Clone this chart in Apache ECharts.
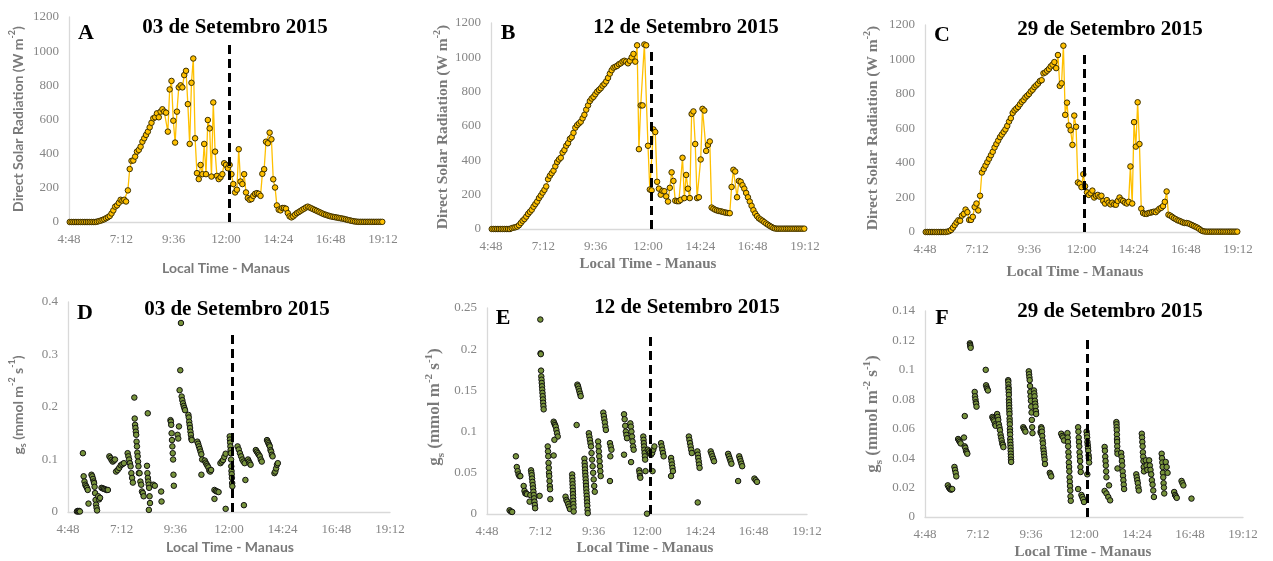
<!DOCTYPE html>
<html>
<head>
<meta charset="utf-8">
<script src="https://cdn.jsdelivr.net/npm/echarts@6/dist/echarts.min.js"></script>
<style>
  html, body { margin: 0; padding: 0; background: #ffffff; }
  #chart { width: 1273px; height: 561px; }
</style>
</head>
<body>
<div id="chart"></div>
<script>
// ---------------------------------------------------------------
// Direct solar radiation (W m-2), logged every 5 minutes from 4:50
// ---------------------------------------------------------------
const SAMPLE_START = '4:50';
const SAMPLE_MINUTES = 5;

const radiationSep03 = [
  0,0,0,0,0,0,0,0,0,0,0,0,0,0,0,
  2,5,8,12,16,22,28,35,50,68,90,97,112,130,125,130,120,
  185,310,358,360,383,412,422,441,470,490,510,529,554,581,607,613,636,613,646,660,646,640,
  529,776,826,593,465,646,788,800,788,860,885,690,457,815,957,490,286,251,334,280,
  457,280,597,548,266,700,412,270,251,262,280,344,334,315,334,280,222,173,189,426,
  237,222,280,173,140,130,134,153,165,169,165,153,282,309,470,461,523,484,250,202,
  97,72,68,82,82,78,52,33,27,33,43,52,58,65,72,78,85,90,85,80,
  75,70,65,60,55,50,45,42,38,35,32,30,28,26,24,22,20,18,15,12,10,7,5,3,2,
  1,1,1,1,1,1,1,1,1,1,1,1,1,1
];

const radiationSep12 = [
  0,0,0,0,0,0,0,0,0,0,0,
  5,8,10,14,22,35,48,58,72,88,100,112,130,145,160,180,195,212,228,248,
  290,310,325,340,365,390,405,415,445,460,485,500,525,535,560,590,605,615,625,645,
  665,695,720,745,760,770,785,800,810,820,835,845,860,880,905,925,940,945,950,960,
  965,975,980,975,965,980,1000,1020,975,1070,
  465,720,720,1075,1070,485,230,225,580,565,275,235,200,222,220,190,160,240,330,280,
  165,162,162,170,415,180,315,235,180,670,685,495,180,185,405,700,690,455,490,510,
  125,118,112,108,105,103,100,97,95,93,92,245,345,335,185,280,275,255,235,210,
  185,160,135,110,90,75,62,55,48,40,32,25,18,12,6,3,
  2,2,2,2,2,2,2,2,2,2,2,2,2,2,2,2
];

const radiationSep29 = [
  0,0,0,0,0,0,0,0,0,0,0,0,
  2,5,12,25,40,55,68,65,95,105,130,115,70,70,88,145,165,125,210,
  345,365,385,405,425,445,465,490,510,530,550,565,580,595,615,640,660,690,705,715,
  725,740,755,765,780,790,800,815,825,840,850,860,875,880,920,925,935,945,960,970,
  985,950,1026,847,862,1080,679,750,617,590,505,675,610,287,280,260,335,265,230,215,
  225,240,200,210,215,205,210,180,165,185,170,160,170,160,158,180,200,185,180,170,
  165,175,380,165,637,495,752,510,135,110,105,105,110,112,115,118,115,125,135,140,
  150,175,235,100,95,88,80,75,68,65,60,55,52,52,50,45,40,35,30,25,18,10,5,3,
  2,2,2,2,2,2,2,2,2,2,2,2,2,2,2,2,2,2
];

// ---------------------------------------------------------------
// Stomatal conductance gs (mmol m-2 s-1): measurement bouts
// [first reading, last reading, readings in order]
// ---------------------------------------------------------------
const conductanceSep03 = [
  ['5:12', '5:20', [0.001, 0.002, 0.001, 0.002, 0.001]],
  ['5:28', '5:28', [0.112]],
  ['5:30', '5:41', [0.068, 0.058, 0.052, 0.049, 0.046, 0.042]],
  ['5:43', '5:43', [0.016]],
  ['5:51', '5:57', [0.071, 0.068, 0.063, 0.058]],
  ['5:58', '6:06', [0.055, 0.048, 0.036, 0.023, 0.014, 0.008, 0.003]],
  ['6:09', '6:14', [0.03, 0.024, 0.027]],
  ['6:18', '6:35', [0.046, 0.045, 0.044, 0.043, 0.042, 0.042]],
  ['6:39', '6:54', [0.106, 0.103, 0.099, 0.096, 0.098, 0.1]],
  ['6:57', '7:18', [0.077, 0.08, 0.084, 0.089, 0.091, 0.093]],
  ['7:28', '7:42', [0.112, 0.106, 0.1, 0.093, 0.087, 0.074, 0.065, 0.056]],
  ['7:46', '7:58', [0.218, 0.178, 0.166, 0.16, 0.153, 0.147, 0.134, 0.125, 0.113, 0.106, 0.096, 0.087, 0.074]],
  ['8:00', '8:11', [0.074, 0.058, 0.052, 0.039, 0.036, 0.03]],
  ['8:20', '8:28', [0.088, 0.074, 0.065, 0.058, 0.052, 0.046, 0.03, 0.017]],
  ['8:22', '8:22', [0.188]],
  ['8:25', '8:25', [0.004]],
  ['8:37', '8:41', [0.052, 0.05]],
  ['8:58', '8:59', [0.039, 0.02]],
  ['9:23', '9:32', [0.175, 0.172, 0.166, 0.15, 0.137, 0.125, 0.112, 0.1, 0.071, 0.05]],
  ['9:42', '10:02', [0.147, 0.14, 0.163, 0.232, 0.27, 0.36, 0.22, 0.213, 0.207, 0.202, 0.198, 0.194]],
  ['10:11', '10:20', [0.185, 0.18, 0.172, 0.166, 0.16, 0.153, 0.147, 0.14, 0.137]],
  ['10:35', '10:48', [0.134, 0.13, 0.125, 0.12, 0.115, 0.11, 0.1]],
  ['10:46', '10:46', [0.071]],
  ['10:55', '11:12', [0.098, 0.094, 0.091, 0.088, 0.085, 0.079, 0.077, 0.08]],
  ['11:21', '11:32', [0.042, 0.04, 0.039, 0.038]],
  ['11:21', '11:21', [0.025]],
  ['11:37', '11:51', [0.093, 0.096, 0.099, 0.105, 0.111]],
  ['11:51', '11:51', [0.006]],
  ['12:02', '12:09', [0.144, 0.138, 0.132, 0.125, 0.118, 0.112, 0.1, 0.087, 0.078, 0.072, 0.065, 0.055, 0.049]],
  ['12:23', '12:42', [0.125, 0.119, 0.112, 0.106, 0.1, 0.096, 0.093]],
  ['12:44', '12:44', [0.061]],
  ['12:40', '12:40', [0.013]],
  ['12:51', '12:58', [0.1, 0.096, 0.093, 0.09]],
  ['13:12', '13:28', [0.118, 0.115, 0.112, 0.109, 0.106, 0.1, 0.096]],
  ['13:42', '13:57', [0.137, 0.134, 0.131, 0.128, 0.125, 0.118, 0.115, 0.109, 0.106]],
  ['14:02', '14:11', [0.074, 0.077, 0.083, 0.09, 0.093]]
];

const conductanceSep12 = [
  ['5:49', '5:56', [0.0045, 0.003, 0.0025]],
  ['6:06', '6:18', [0.07, 0.057, 0.052, 0.048, 0.046, 0.046]],
  ['6:27', '6:36', [0.034, 0.028, 0.025, 0.025, 0.024]],
  ['6:43', '6:45', [0.015, 0.023]],
  ['6:47', '6:58', [0.053, 0.05, 0.047, 0.043, 0.039, 0.035, 0.031, 0.027, 0.023, 0.019, 0.015, 0.011, 0.007]],
  ['7:10', '7:10', [0.022]],
  ['7:12', '7:21', [0.236, 0.195, 0.194, 0.174, 0.167, 0.163, 0.159, 0.155, 0.151, 0.147, 0.143, 0.139, 0.135, 0.131, 0.127]],
  ['7:32', '7:39', [0.082, 0.076, 0.07, 0.062, 0.056, 0.05, 0.046, 0.04, 0.034, 0.03, 0.018]],
  ['7:48', '7:59', [0.112, 0.11, 0.108, 0.106, 0.102, 0.098, 0.094]],
  ['7:48', '7:50', [0.071, 0.09]],
  ['8:20', '8:32', [0.021, 0.017, 0.015, 0.012, 0.009, 0.006]],
  ['8:38', '8:42', [0.048, 0.044, 0.04, 0.036, 0.032, 0.028, 0.024, 0.02, 0.016, 0.012, 0.008, 0.003]],
  ['8:50', '8:50', [0.108]],
  ['8:52', '9:01', [0.157, 0.155, 0.152, 0.149, 0.146, 0.143]],
  ['9:11', '9:20', [0.067, 0.062, 0.058, 0.054, 0.05, 0.046, 0.042, 0.038, 0.034, 0.03, 0.026, 0.022, 0.018, 0.014, 0.01, 0.005, 0.001]],
  ['9:23', '9:39', [0.098, 0.094, 0.09, 0.086, 0.082, 0.074, 0.066, 0.058, 0.05, 0.042, 0.034, 0.027]],
  ['9:48', '9:55', [0.088, 0.082, 0.076, 0.07, 0.064, 0.058, 0.052, 0.046]],
  ['10:02', '10:09', [0.123, 0.119, 0.115, 0.111, 0.106, 0.102]],
  ['10:20', '10:24', [0.086, 0.082, 0.078]],
  ['10:20', '10:21', [0.04, 0.07]],
  ['10:58', '11:06', [0.121, 0.115, 0.107, 0.1, 0.096, 0.092]],
  ['10:58', '10:58', [0.072]],
  ['11:15', '11:24', [0.11, 0.106, 0.1, 0.094, 0.088, 0.082, 0.078]],
  ['11:17', '11:17', [0.063]],
  ['11:39', '11:42', [0.053, 0.05, 0.046, 0.044]],
  ['11:50', '11:55', [0.094, 0.09, 0.086, 0.082, 0.078, 0.074, 0.07, 0.066]],
  ['11:56', '11:56', [0.052]],
  ['12:00', '12:00', [0.0004]],
  ['12:02', '12:20', [0.078, 0.076, 0.074, 0.072, 0.074, 0.078, 0.082]],
  ['12:15', '12:15', [0.052]],
  ['12:38', '12:45', [0.086, 0.082, 0.078, 0.074, 0.07]],
  ['13:05', '13:10', [0.068, 0.064, 0.06, 0.056, 0.052]],
  ['13:05', '13:05', [0.046]],
  ['13:53', '14:01', [0.094, 0.09, 0.086, 0.082, 0.078, 0.074]],
  ['14:16', '14:22', [0.076, 0.072, 0.068, 0.064, 0.06, 0.056]],
  ['14:17', '14:17', [0.014]],
  ['14:52', '15:01', [0.076, 0.073, 0.07, 0.067, 0.064]],
  ['15:39', '15:48', [0.073, 0.07, 0.067, 0.064, 0.061]],
  ['16:06', '16:06', [0.04]],
  ['16:09', '16:17', [0.07, 0.067, 0.064, 0.061, 0.058]],
  ['16:50', '16:57', [0.043, 0.041, 0.039]]
];

const conductanceSep29 = [
  ['5:50', '6:02', [0.0215, 0.02, 0.019, 0.0186, 0.019]],
  ['6:08', '6:13', [0.034, 0.032, 0.03, 0.0276]],
  ['6:18', '6:25', [0.053, 0.052, 0.051, 0.05]],
  ['6:34', '6:43', [0.054, 0.048, 0.047, 0.045, 0.044, 0.043]],
  ['6:36', '6:36', [0.0686]],
  ['6:50', '6:52', [0.118, 0.117, 0.116, 0.115]],
  ['7:03', '7:08', [0.085, 0.082, 0.08, 0.078, 0.077, 0.075]],
  ['7:33', '7:33', [0.1]],
  ['7:34', '7:39', [0.0895, 0.088, 0.087, 0.086]],
  ['7:51', '8:00', [0.068, 0.067, 0.066, 0.065, 0.063, 0.062]],
  ['8:04', '8:21', [0.07, 0.068, 0.066, 0.063, 0.061, 0.059, 0.056, 0.054, 0.052, 0.05, 0.049, 0.0475]],
  ['8:34', '8:42', [0.093, 0.092, 0.09, 0.088, 0.087, 0.085, 0.083, 0.08, 0.078, 0.076, 0.074, 0.072, 0.07, 0.067,
                    0.065, 0.063, 0.06, 0.058, 0.056, 0.053, 0.051, 0.049, 0.047, 0.045, 0.043, 0.041, 0.039, 0.0374]],
  ['9:15', '9:21', [0.061, 0.06, 0.059, 0.058]],
  ['9:30', '9:40', [0.099, 0.097, 0.095, 0.093, 0.089, 0.085, 0.082, 0.079, 0.075, 0.071, 0.066, 0.061, 0.057]],
  ['9:44', '9:50', [0.086, 0.084, 0.082, 0.079, 0.077, 0.075, 0.072, 0.07]],
  ['10:02', '10:14', [0.058, 0.057, 0.061, 0.06, 0.058, 0.055, 0.052, 0.05, 0.047, 0.045, 0.043, 0.041, 0.039, 0.036]],
  ['10:27', '10:31', [0.03, 0.029, 0.0276]],
  ['10:58', '11:06', [0.0566, 0.055, 0.054, 0.052]],
  ['11:15', '11:24', [0.057, 0.054, 0.051, 0.048, 0.044, 0.041, 0.037, 0.034, 0.031, 0.027, 0.024, 0.021, 0.018, 0.014, 0.011]],
  ['11:44', '11:51', [0.061, 0.058, 0.054, 0.051, 0.048, 0.044, 0.041, 0.038, 0.034, 0.0306]],
  ['11:44', '11:44', [0.019]],
  ['11:53', '12:00', [0.015, 0.0136, 0.012, 0.0102]],
  ['12:07', '12:14', [0.058, 0.056, 0.054, 0.051, 0.049, 0.047, 0.045, 0.042, 0.04, 0.037]],
  ['12:09', '12:09', [0.029]],
  ['12:56', '13:01', [0.0476, 0.045, 0.041, 0.038, 0.035, 0.031, 0.027]],
  ['12:56', '13:11', [0.0177, 0.016, 0.0136, 0.0113]],
  ['13:08', '13:08', [0.0215]],
  ['13:28', '13:31', [0.0645, 0.063, 0.061, 0.059, 0.056, 0.053, 0.051, 0.048, 0.045, 0.043]],
  ['13:31', '13:31', [0.033]],
  ['13:41', '13:49', [0.0435, 0.041, 0.038, 0.035, 0.031, 0.028, 0.025, 0.022, 0.019]],
  ['14:22', '14:29', [0.029, 0.027, 0.025, 0.023, 0.02, 0.018]],
  ['14:37', '14:43', [0.0566, 0.054, 0.051, 0.048, 0.044, 0.041, 0.038, 0.034, 0.031]],
  ['14:48', '14:52', [0.0385, 0.035, 0.032]],
  ['14:57', '15:10', [0.0385, 0.035, 0.032, 0.029, 0.025, 0.022, 0.018, 0.0136]],
  ['15:31', '15:38', [0.043, 0.04, 0.037, 0.034, 0.03, 0.027, 0.023, 0.02, 0.016]],
  ['15:42', '15:47', [0.0374, 0.034, 0.03]],
  ['16:05', '16:12', [0.017, 0.015, 0.014, 0.013]],
  ['16:25', '16:30', [0.0245, 0.023, 0.0215]],
  ['16:52', '16:52', [0.0125]]
];

// Axis ticks and the midday reference line
const TIME_MIN = '4:48';
const TIME_MAX = '19:12';
const TIME_TICK_MINUTES = 144;           // 2:24 between ticks
const NOON_LINE = '12:08';
const radiationTicks = { max: 1200, step: 200 };
const conductanceTicks = [
  { max: 0.4, step: 0.1 },
  { max: 0.25, step: 0.05 },
  { max: 0.14, step: 0.02 }
];
const dayTitles = ['03 de Setembro 2015', '12 de Setembro 2015', '29 de Setembro 2015'];
const panelLetters = ['A', 'B', 'C', 'D', 'E', 'F'];
const xAxisTitle = 'Local Time - Manaus';

// ---------------------------------------------------------------
function toMinutes(s) { const p = s.split(':').map(Number); return p[0] * 60 + p[1]; }
function clock(m) {
  const h = Math.floor(m / 60), mm = Math.round(m - h * 60);
  return h + ':' + String(mm).padStart(2, '0');
}
function plainNumber(v) { return String(+v.toFixed(4)); }
function radiationPoints(values) {
  const t0 = toMinutes(SAMPLE_START);
  return values.map((v, i) => [t0 + i * SAMPLE_MINUTES, v]);
}
function boutPoints(bouts) {
  const pts = [];
  bouts.forEach(([a, b, vals]) => {
    const t0 = toMinutes(a), t1 = toMinutes(b);
    vals.forEach((v, k) => {
      const t = vals.length > 1 ? t0 + (t1 - t0) * k / (vals.length - 1) : t0;
      pts.push([t, v]);
    });
  });
  return pts;
}

const SERIF = '"Liberation Serif", "Times New Roman", serif';
const SANS = 'Lato, "Liberation Sans", sans-serif';
const GREY = '#7a7a7a';
const TICK_GREY = '#868686';
const AXIS_GREY = '#d9d9d9';

// Panel placement (pixels) and typography
const panels = [
  { grid: { left: 69, top: 17, width: 314, height: 205 }, kind: 'line', data: radiationSep03, ticks: radiationTicks, lineTop: 1048,
    title: [235, 28], letter: [86, 33], yName: [18, 119], xName: [226, 268], nameFont: 'sans' },
  { grid: { left: 491, top: 23, width: 314, height: 206 }, kind: 'line', data: radiationSep12, ticks: radiationTicks, lineTop: 1043,
    title: [686, 28], letter: [508, 33], yName: [443, 127], xName: [648, 264], nameFont: 'serif' },
  { grid: { left: 925, top: 25, width: 313, height: 207 }, kind: 'line', data: radiationSep29, ticks: radiationTicks, lineTop: 1026,
    title: [1110, 30], letter: [942, 35], yName: [873, 128], xName: [1075, 272], nameFont: 'serif' },
  { grid: { left: 68, top: 302, width: 322, height: 210 }, kind: 'scatter', data: conductanceSep03, ticks: conductanceTicks[0], lineTop: 0.341,
    title: [237, 310], letter: [85, 313], yName: [18, 405], xName: [230, 547], nameFont: 'sans' },
  { grid: { left: 487, top: 308, width: 320, height: 206 }, kind: 'scatter', data: conductanceSep12, ticks: conductanceTicks[1], lineTop: 0.215,
    title: [687, 308], letter: [503, 318], yName: [435, 407], xName: [645, 548], nameFont: 'serif' },
  { grid: { left: 925, top: 311, width: 318, height: 206 }, kind: 'scatter', data: conductanceSep29, ticks: conductanceTicks[2], lineTop: 0.1217,
    title: [1110, 312], letter: [942, 318], yName: [873, 414], xName: [1083, 552], nameFont: 'serif' }
];

const grids = [], xAxes = [], yAxes = [], series = [], graphics = [];

panels.forEach((p, i) => {
  grids.push(Object.assign({ containLabel: false, outerBoundsMode: 'none' }, p.grid));

  xAxes.push({
    type: 'value', gridIndex: i,
    min: toMinutes(TIME_MIN), max: toMinutes(TIME_MAX), interval: TIME_TICK_MINUTES,
    axisLine: { show: true, onZero: false, lineStyle: { color: AXIS_GREY, width: 1.3 } },
    axisTick: { show: false }, splitLine: { show: false },
    axisLabel: { formatter: clock, color: TICK_GREY, fontFamily: SERIF, fontSize: 13, margin: 11 }
  });

  yAxes.push({
    type: 'value', gridIndex: i, min: 0, max: p.ticks.max, interval: p.ticks.step,
    axisLine: { show: true, lineStyle: { color: AXIS_GREY, width: 1.3 } },
    axisTick: { show: false }, splitLine: { show: false },
    axisLabel: { formatter: plainNumber, color: TICK_GREY, fontFamily: SERIF, fontSize: 13, margin: 10 }
  });

  const noon = toMinutes(NOON_LINE);
  const markLine = {
    silent: true, symbol: ['none', 'none'], animation: false,
    label: { show: false },
    lineStyle: { color: '#000000', type: [9, 5], width: 3 },
    data: [[{ coord: [noon, 0] }, { coord: [noon, p.lineTop] }]]
  };

  if (p.kind === 'line') {
    series.push({
      type: 'line', xAxisIndex: i, yAxisIndex: i,
      data: radiationPoints(p.data),
      symbol: 'circle', symbolSize: 5.5, showAllSymbol: true,
      lineStyle: { color: '#FFC000', width: 1.3 },
      itemStyle: { color: '#FFC000', borderColor: '#3d3000', borderWidth: 1 },
      markLine: markLine, z: 3
    });
  } else {
    series.push({
      type: 'scatter', xAxisIndex: i, yAxisIndex: i,
      data: boutPoints(p.data),
      symbol: 'circle', symbolSize: 5.5,
      itemStyle: { color: '#77933C', borderColor: '#111111', borderWidth: 1, opacity: 1 },
      markLine: markLine, z: 3
    });
  }

  const day = dayTitles[i % 3];
  graphics.push({
    type: 'text', x: p.title[0], y: p.title[1],
    style: { text: day, font: 'bold 21px ' + SERIF, fill: '#000000',
             align: 'center', verticalAlign: 'middle', textAlign: 'center', textVerticalAlign: 'middle' }
  });
  graphics.push({
    type: 'text', x: p.letter[0], y: p.letter[1],
    style: { text: panelLetters[i], font: 'bold 22px ' + SERIF, fill: '#000000',
             align: 'center', verticalAlign: 'middle', textAlign: 'center', textVerticalAlign: 'middle' }
  });

  const isSans = p.nameFont === 'sans';
  const fam = isSans ? SANS : SERIF;
  const base = isSans ? 14 : (i < 3 ? 15.5 : 17);
  const supSize = Math.round(base * 0.62);
  const rich = {
    t: { fontFamily: fam, fontWeight: 'bold', fontSize: base, fill: GREY, lineHeight: base + 6, verticalAlign: 'middle' },
    sup: { fontFamily: fam, fontWeight: 'bold', fontSize: supSize, fill: GREY, lineHeight: supSize + 2, verticalAlign: 'top' },
    sub: { fontFamily: fam, fontWeight: 'bold', fontSize: supSize, fill: GREY, lineHeight: supSize + 2, verticalAlign: 'bottom' }
  };
  const yText = i < 3
    ? '{t|Direct Solar Radiation (W m}{sup|-2}{t|)}'
    : '{t|g}{sub|s}{t| (mmol m}{sup|-2}{t| s}{sup|-1}{t|)}';
  graphics.push({
    type: 'text', x: p.yName[0], y: p.yName[1], rotation: Math.PI / 2,
    style: { text: yText, rich: rich, align: 'center', verticalAlign: 'middle', textAlign: 'center', textVerticalAlign: 'middle' }
  });
  graphics.push({
    type: 'text', x: p.xName[0], y: p.xName[1],
    style: { text: xAxisTitle, font: 'bold ' + (isSans ? 14 : 15) + 'px ' + fam, fill: GREY,
             align: 'center', verticalAlign: 'middle', textAlign: 'center', textVerticalAlign: 'middle' }
  });
});

const chart = echarts.init(document.getElementById('chart'), null, { renderer: 'canvas', width: 1273, height: 561 });
chart.setOption({
  animation: false,
  backgroundColor: '#ffffff',
  grid: grids,
  xAxis: xAxes,
  yAxis: yAxes,
  series: series,
  graphic: { elements: graphics }
});
</script>
</body>
</html>
